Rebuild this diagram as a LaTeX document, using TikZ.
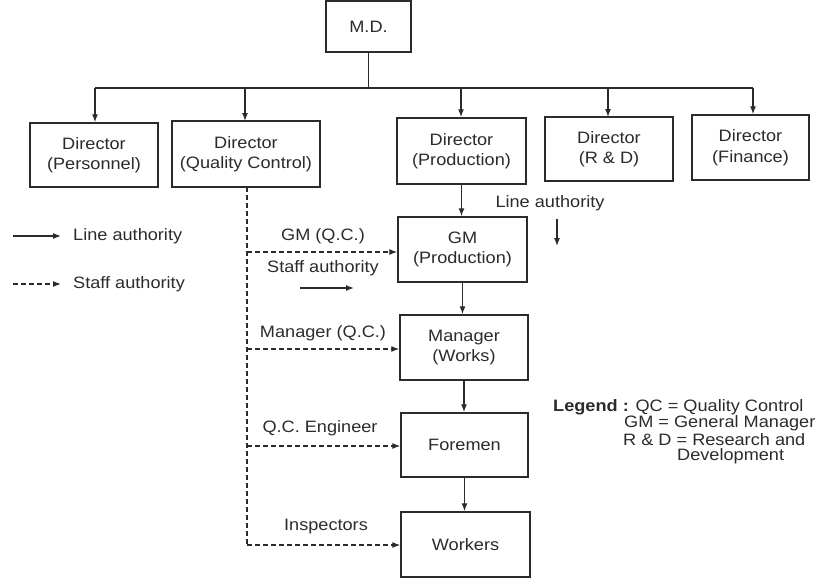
\documentclass[tikz,border=0pt]{standalone}
\usepackage{fontspec}
\setmainfont{Liberation Sans}[FakeStretch=1.1]
\usetikzlibrary{arrows.meta}
\definecolor{ink}{HTML}{2B2B2B}
\tikzset{
  box/.style={draw=ink, line width=1.4pt, fill=white, align=center, text=ink,
    inner sep=0pt, font=\fontsize{16.5}{20.5}\selectfont},
  lbl/.style={text=ink, inner sep=0pt, font=\fontsize{16.5}{19}\selectfont},
  tip/.style={-{Latex[length=8pt,width=6pt]}},
  lineauth/.style={draw=ink, line width=1.3pt, tip},
  staffauth/.style={draw=ink, line width=1.2pt, dash pattern=on 5pt off 3pt, tip},
  wire/.style={draw=ink, line width=1.3pt}
}
\begin{document}
\begin{tikzpicture}[x=1pt,y=-1pt]
\useasboundingbox (0,0) rectangle (826,581);

% top of the chart
\node[box, minimum width=85pt, minimum height=51pt] (md) at (368.5,26.5) {M.D.};

% directors
\node[box, minimum width=128pt, minimum height=64pt] (dpers) at (94,155) {Director\\(Personnel)};
\node[box, minimum width=148pt, minimum height=66pt] (dqc) at (246,154) {Director\\(Quality Control)};
\node[box, minimum width=129pt, minimum height=66pt] (dprod) at (461.5,151) {Director\\(Production)};
\node[box, minimum width=128pt, minimum height=64pt] (drd) at (609,149) {Director\\(R \& D)};
\node[box, minimum width=117pt, minimum height=65pt] (dfin) at (750.5,147.5) {Director\\(Finance)};

% production line
\node[box, minimum width=129pt, minimum height=65pt] (gm) at (462.5,249.5) {GM\\(Production)};
\node[box, minimum width=128pt, minimum height=65pt] (mgr) at (464,347.5) {Manager\\(Works)};
\node[box, minimum width=127pt, minimum height=64pt] (fore) at (464.5,445) {Foremen};
\node[box, minimum width=129pt, minimum height=65pt] (work) at (465.5,544.5) {Workers};

% bus from M.D. to directors
\coordinate (busL) at (95,88);
\coordinate (busR) at (753,88);
\coordinate (busM) at (368.5,88);
\draw[wire] (md.south) -- (busM);
\draw[wire] (busL) -- (busR);
\draw[lineauth] (busL) -- (busL |- dpers.north);
\draw[lineauth] (245,88) -- (245,121);
\draw[lineauth] (461,88) -- (dprod.north -| 461,0);
\draw[lineauth] (608,88) -- (608,117);
\draw[lineauth] (busR) -- (busR |- dfin.north);

% line authority down the production chain
\draw[lineauth] (dprod.south) -- (gm.north -| dprod.south);
\draw[lineauth] (gm.south) -- (gm.south |- mgr.north);
\draw[lineauth] (mgr.south) -- (mgr.south |- fore.north);
\draw[lineauth] (fore.south) -- (fore.south |- work.north);

% staff authority from quality control
\coordinate (qtop) at (247,187);
\coordinate (qbot) at (247,545);
\draw[wire, line width=1.2pt, dash pattern=on 5pt off 3pt] (qtop) -- (qbot);
\draw[staffauth] (247,252) -- (gm.west |- 0,252);
\draw[staffauth] (247,349) -- (mgr.west |- 0,349);
\draw[staffauth] (247,446) -- (fore.west |- 0,446);
\draw[staffauth] (qbot) -- (work.west |- qbot);

% labels on the staff lines
\node[lbl] (lgmqc) at (323,236) {GM (Q.C.)};
\node[lbl] (lstaff) at (323,268) {Staff authority};
\coordinate (sa1) at (300,288);
\coordinate (sa2) at (354,288);
\draw[lineauth] (sa1) -- (sa2);
\node[lbl] (lmqc) at (323,333) {Manager (Q.C.)};
\node[lbl] (lqce) at (320,428) {Q.C. Engineer};
\node[lbl] (linsp) at (326,527) {Inspectors};

% label on the line chain
\node[lbl] (lline) at (550,203) {Line authority};
\coordinate (la1) at (557,219);
\coordinate (la2) at (557,246);
\draw[lineauth] (la1) -- (la2);

% key for the two connector styles
\coordinate (k1a) at (13,236);
\coordinate (k1b) at (61,236);
\coordinate (k2a) at (13,284);
\coordinate (k2b) at (61,284);
\draw[lineauth] (k1a) -- (k1b);
\draw[staffauth] (k2a) -- (k2b);
\node[lbl, anchor=west] (kline) at (73,236) {Line authority};
\node[lbl, anchor=west] (kstaff) at (73,284) {Staff authority};

% abbreviations
\node[lbl, anchor=west] (leg1) at (553,407) {\textbf{Legend :} QC = Quality Control};
\node[lbl, anchor=west] (leg2) at (624,423.5) {GM = General Manager};
\node[lbl, anchor=west] (leg3) at (623,440) {R \& D = Research and};
\node[lbl, anchor=west] (leg4) at (677,456.5) {Development};
\end{tikzpicture}
\end{document}
